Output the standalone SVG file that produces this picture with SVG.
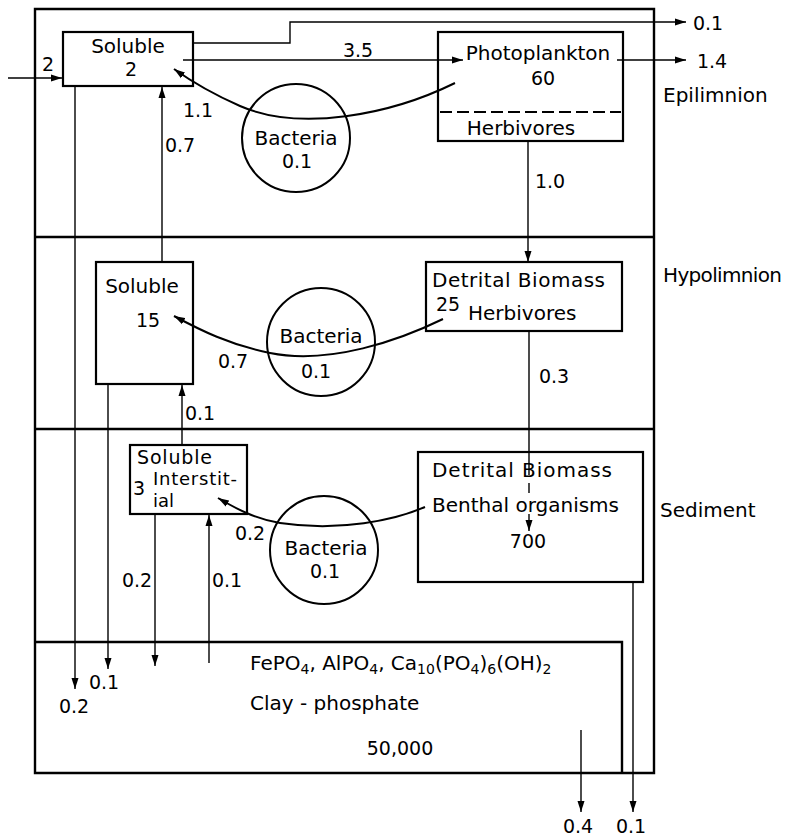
<svg xmlns="http://www.w3.org/2000/svg" width="789" height="837" viewBox="0 0 789 837">
<style>
text{font-family:"DejaVu Sans","Liberation Sans",sans-serif;font-size:20px;fill:#000}
.n{font-size:19px}
.m{text-anchor:middle}
.s{font-size:18px}
.frame{fill:none;stroke:#000;stroke-width:2.4}
.box{fill:#fff;stroke:#000;stroke-width:2.2}
.circ{fill:none;stroke:#000;stroke-width:2}
.ln{fill:none;stroke:#000;stroke-width:1.4}
.cv{fill:none;stroke:#000;stroke-width:2}
</style>
<defs>
<marker id="ah" markerUnits="userSpaceOnUse" markerWidth="12" markerHeight="8" refX="11" refY="4" orient="auto">
<path d="M0,0.5 L11,4 L0,7.5 z" fill="#000"/>
</marker>
</defs>
<rect width="789" height="837" fill="#fff"/>
<g id="frame">
<path class="frame" d="M35,9 H654 V773 H35 Z"/>
<path class="frame" d="M35,237 H654 M35,429 H654 M35,642 H622 V773"/>
</g>
<g id="layer-labels">
<text x="663" y="102">Epilimnion</text>
<text x="663" y="282" textLength="119">Hypolimnion</text>
<text x="660" y="517">Sediment</text>
</g>
<g id="soluble-epi">
<rect class="box" x="63" y="32" width="130" height="54"/>
<text class="m" x="128" y="53">Soluble</text>
<text class="n m" x="131" y="76">2</text>
</g>
<g id="photoplankton">
<rect class="box" x="438" y="32" width="185" height="109"/>
<path d="M440,112 H621" stroke="#000" stroke-width="1.8" stroke-dasharray="12,5"/>
<text class="m" x="538" y="60">Photoplankton</text>
<text class="n m" x="543" y="85">60</text>
<text class="m" x="521" y="135">Herbivores</text>
</g>
<g id="bacteria-epi">
<circle class="circ" cx="296" cy="138" r="54"/>
<text class="m" x="296" y="145">Bacteria</text>
<text class="n m" x="297" y="168">0.1</text>
</g>
<g id="soluble-hypo">
<rect class="box" x="96" y="262" width="97" height="122"/>
<text class="m" x="142" y="293">Soluble</text>
<text class="n m" x="148" y="327">15</text>
</g>
<g id="detrital-hypo">
<rect class="box" x="426" y="262" width="196" height="69"/>
<text x="432" y="287" textLength="173">Detrital Biomass</text>
<text class="n" x="436" y="311">25</text>
<text x="468" y="320">Herbivores</text>
</g>
<g id="bacteria-hypo">
<circle class="circ" cx="321" cy="342" r="54"/>
<text class="m" x="321" y="343">Bacteria</text>
<text class="n m" x="316" y="378">0.1</text>
</g>
<g id="soluble-interstitial">
<rect class="box" x="130" y="445" width="117" height="69"/>
<text class="n" x="137" y="464" textLength="75">Soluble</text>
<text class="n" x="133" y="495">3</text>
<text class="s" x="153" y="485" textLength="84">Interstit-</text>
<text class="s" x="153" y="507">ial</text>
</g>
<g id="bacteria-sed">
<circle class="circ" cx="324" cy="550" r="54"/>
<text class="m" x="326" y="555">Bacteria</text>
<text class="n m" x="325" y="578">0.1</text>
</g>
<g id="detrital-sed">
<rect class="box" x="418" y="452" width="225" height="130"/>
<text x="432" y="477" textLength="180">Detrital Biomass</text>
<text x="432" y="512" textLength="187">Benthal organisms</text>
<text class="n m" x="528" y="548">700</text>
</g>
<g id="clay">
<text x="250" y="670">FePO<tspan font-size="14" dy="4">4</tspan><tspan dy="-4">, AlPO</tspan><tspan font-size="14" dy="4">4</tspan><tspan dy="-4">, Ca</tspan><tspan font-size="14" dy="4">10</tspan><tspan dy="-4">(PO</tspan><tspan font-size="14" dy="4">4</tspan><tspan dy="-4">)</tspan><tspan font-size="14" dy="4">6</tspan><tspan dy="-4">(OH)</tspan><tspan font-size="14" dy="4">2</tspan></text>
<text x="250" y="710">Clay - phosphate</text>
<text class="n m" x="400" y="755">50,000</text>
</g>
<g id="connectors">
<path class="ln" d="M8,78 H62" marker-end="url(#ah)"/>
<path class="ln" d="M193,43 H290 V22 H686" marker-end="url(#ah)"/>
<path class="ln" d="M183,60 H463" marker-end="url(#ah)"/>
<path class="ln" d="M617,60 H686" marker-end="url(#ah)"/>
<path class="cv" d="M455,83 C390,115 300,132 240,106 C215,95 195,84 174,69" marker-end="url(#ah)"/>
<path class="ln" d="M162,262 V87" marker-end="url(#ah)"/>
<path class="ln" d="M528,141 V262" marker-end="url(#ah)"/>
<path class="cv" d="M443,319 C400,340 330,365 270,353 C230,345 200,330 174,316" marker-end="url(#ah)"/>
<path class="ln" d="M529,331 V475 M529,483 V493"/>
<path class="ln" d="M529,514 V531" marker-end="url(#ah)"/>
<path class="ln" d="M182,445 V385" marker-end="url(#ah)"/>
<path class="cv" d="M425,507 C395,520 340,532 280,523 C255,519 235,508 218,498" marker-end="url(#ah)"/>
<path class="ln" d="M75,86 V689" marker-end="url(#ah)"/>
<path class="ln" d="M108,384 V669" marker-end="url(#ah)"/>
<path class="ln" d="M155,514 V666" marker-end="url(#ah)"/>
<path class="ln" d="M209,663 V515" marker-end="url(#ah)"/>
<path class="ln" d="M633,582 V812" marker-end="url(#ah)"/>
<path class="ln" d="M581,730 V812" marker-end="url(#ah)"/>
</g>
<g id="flow-labels">
<text class="n m" x="48" y="71">2</text>
<text class="n m" x="708" y="30">0.1</text>
<text class="n m" x="358" y="57">3.5</text>
<text class="n m" x="712" y="68">1.4</text>
<text class="n m" x="198" y="117">1.1</text>
<text class="n m" x="180" y="152">0.7</text>
<text class="n m" x="550" y="188">1.0</text>
<text class="n m" x="233" y="368">0.7</text>
<text class="n m" x="554" y="383">0.3</text>
<text class="n m" x="200" y="420">0.1</text>
<text class="n m" x="250" y="540">0.2</text>
<text class="n m" x="137" y="587">0.2</text>
<text class="n m" x="227" y="587">0.1</text>
<text class="n m" x="104" y="689">0.1</text>
<text class="n m" x="74" y="713">0.2</text>
<text class="n m" x="578" y="833">0.4</text>
<text class="n m" x="631" y="833">0.1</text>
</g>
</svg>
